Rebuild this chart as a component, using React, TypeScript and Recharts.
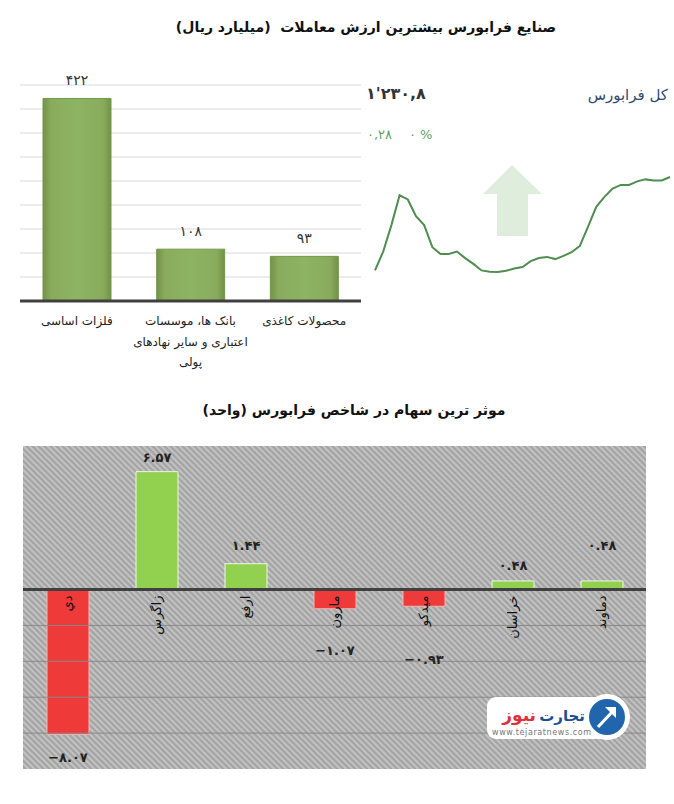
import React from 'react';
import {
  BarChart,
  Bar,
  XAxis,
  YAxis,
  CartesianGrid,
  LabelList,
  LineChart,
  Line,
  ReferenceLine,
  Cell,
} from 'recharts';

// top: sectors with highest trade value (billion rials)
const sectorNames = ['فلزات اساسی', 'بانک ها، موسسات اعتباری و سایر نهادهای پولی', 'محصولات کاغذی'];
const sectorValues = [422, 108, 93];
const sectorTicks = [0, 50, 100, 150, 200, 250, 300, 350, 400, 450];
const sectorTickLines = [['فلزات اساسی'], ['بانک ها، موسسات', 'اعتباری و سایر نهادهای', 'پولی'], ['محصولات کاغذی']];

// intraday index line
const indexValues = [
  1226.1, 1227.05, 1228.38, 1229.88, 1229.67, 1228.83, 1228.38, 1227.27, 1226.93, 1226.93,
  1227.05, 1226.72, 1226.43, 1226.1, 1226.03, 1226.02, 1226.08, 1226.2, 1226.27, 1226.57,
  1226.72, 1226.78, 1226.67, 1226.83, 1227.02, 1227.33, 1228.3, 1229.3, 1229.8, 1230.22,
  1230.4, 1230.4, 1230.58, 1230.68, 1230.63, 1230.63, 1230.8,
];

// bottom: most influential stocks on the index (units)
const stockNames = ['دي', 'زاگرس', 'ارفع', 'مارون', 'میدکو', 'خراسان', 'دماوند'];
const stockImpact = [-8.07, 6.57, 1.44, -1.07, -0.93, 0.48, 0.48];
const belowZeroLines = [-2, -4, -6, -8];

// distance of each value label from its bar end
const labelGap = [23, 14, 18, 42, 53, 15, 35];

const FONT = '"DejaVu Sans", sans-serif';
const toFa = (s: string) => s.replace(/\d/g, (d) => '۰۱۲۳۴۵۶۷۸۹'[+d]).replace(/-/g, '−');

const sectorData = sectorNames.map((name, i) => ({ name, value: sectorValues[i] }));
const lineData = indexValues.map((v, i) => ({ t: i, v }));
const stockData = stockNames.map((name, i) => ({ name, value: stockImpact[i] }));

function SectorTick(props: any) {
  const { x, y, payload } = props;
  const idx = sectorNames.indexOf(payload.value);
  const lines = sectorTickLines[idx] || [payload.value];
  return (
    <text x={x} y={y} textAnchor="middle" fontSize={12} fill="#222" fontFamily={FONT}>
      {lines.map((l, i) => (
        <tspan key={i} x={x} dy={i === 0 ? 16 : 20.5}>
          {l}
        </tspan>
      ))}
    </text>
  );
}

function barBox(props: any) {
  const vb = props.viewBox && props.viewBox.height !== undefined ? props.viewBox : props;
  const y = Number(vb.y);
  const h = Number(vb.height);
  return { x: Number(vb.x), w: Number(vb.width), top: Math.min(y, y + h), bottom: Math.max(y, y + h) };
}

function StockValueLabel(props: any) {
  const { index } = props;
  const value = stockImpact[index];
  const b = barBox(props);
  const cx = b.x + b.w / 2;
  const cy = value >= 0 ? b.top - labelGap[index] : b.bottom + labelGap[index];
  return (
    <text x={cx} y={cy} textAnchor="middle" dominantBaseline="central" fontSize={13} fontWeight="bold" fill="#222" fontFamily={FONT}>
      {toFa(value.toFixed(2))}
    </text>
  );
}

function StockNameLabel(props: any) {
  const { index } = props;
  const value = stockImpact[index];
  const b = barBox(props);
  const cx = b.x + b.w / 2;
  const base = (value >= 0 ? b.bottom : b.top) + 6;
  return (
    <text
      x={cx}
      y={base}
      transform={`rotate(-90 ${cx} ${base})`}
      textAnchor="end"
      dominantBaseline="central"
      fontSize={13}
      fill="#111"
      fontFamily={FONT}
    >
      {stockNames[index]}
    </text>
  );
}

export default function App() {
  return (
    <div
      style={{
        position: 'absolute',
        left: 0,
        top: 0,
        width: 674,
        height: 804,
        overflow: 'hidden',
        background: '#fff',
        fontFamily: FONT,
      }}
    >
      <div
        dir="rtl"
        style={{ position: 'absolute', top: 19, left: 0, width: 732, textAlign: 'center', fontSize: 14, fontWeight: 'bold', color: '#111' }}
      >
        صنایع فرابورس بیشترین ارزش معاملات&nbsp;&nbsp;(میلیارد ریال)
      </div>

      <div style={{ position: 'absolute', left: 0, top: 0 }}>
        <BarChart width={372} height={380} data={sectorData} margin={{ top: 85, right: 11, left: 20, bottom: 0 }}>
          <defs>
            <linearGradient id="sectorFill" x1="0" y1="0" x2="1" y2="0">
              <stop offset="0%" stopColor="#72924a" />
              <stop offset="12%" stopColor="#88ac5c" />
              <stop offset="50%" stopColor="#8db462" />
              <stop offset="88%" stopColor="#88ac5c" />
              <stop offset="100%" stopColor="#72924a" />
            </linearGradient>
          </defs>
          <CartesianGrid vertical={false} stroke="#d9d9d9" />
          <YAxis hide domain={[0, 450]} ticks={sectorTicks} />
          <XAxis
            dataKey="name"
            axisLine={{ stroke: '#404040', strokeWidth: 3 }}
            tickLine={false}
            height={79}
            interval={0}
            tick={<SectorTick />}
          />
          <Bar dataKey="value" barSize={68} fill="url(#sectorFill)" stroke="#759649" isAnimationActive={false}>
            <LabelList
              dataKey="value"
              position="top"
              offset={13}
              fontSize={14}
              fill="#333"
              fontFamily={FONT}
              formatter={(v: any) => toFa(String(v))}
            />
          </Bar>
        </BarChart>
      </div>

      <div style={{ position: 'absolute', left: 360, top: 150 }}>
        <LineChart width={314} height={140} data={lineData} margin={{ top: 27, right: 4, left: 15, bottom: 18 }}>
          <XAxis dataKey="t" hide />
          <YAxis hide domain={[Math.min(...indexValues), Math.max(...indexValues)]} />
          <Line type="linear" dataKey="v" stroke="#4f8d50" strokeWidth={2} dot={false} isAnimationActive={false} />
        </LineChart>
      </div>

      <div
        dir="rtl"
        style={{ position: 'absolute', top: 402, left: 0, width: 708, textAlign: 'center', fontSize: 14, fontWeight: 'bold', color: '#111' }}
      >
        موثر ترین سهام در شاخص فرابورس (واحد)
      </div>

      <div style={{ position: 'absolute', left: 0, top: 430 }}>
        <BarChart width={674} height={360} data={stockData} margin={{ top: 16, right: 28, left: 23, bottom: 21 }}>
          <defs>
            <pattern id="hatch" patternUnits="userSpaceOnUse" width="4.24" height="4.24" patternTransform="rotate(-45)">
              <rect width="4.24" height="4.24" fill="#a4a4a4" />
              <rect width="1.9" height="4.24" fill="#c4c4c4" />
            </pattern>
          </defs>
          <CartesianGrid horizontal={false} vertical={false} fill="url(#hatch)" />
          <XAxis dataKey="name" hide />
          <YAxis hide domain={[-10, 8]} />
          {belowZeroLines.map((v) => (
            <ReferenceLine key={v} y={v} stroke="#8a8a8a" strokeWidth={1} />
          ))}
          <Bar dataKey="value" barSize={42} isAnimationActive={false}>
            {stockData.map((d, i) => (
              <Cell key={i} fill={d.value >= 0 ? '#92d050' : '#ef3a3a'} stroke={d.value >= 0 ? '#eef7e6' : '#f6b4b4'} strokeWidth={1} />
            ))}
            <LabelList dataKey="value" content={<StockValueLabel />} />
            <LabelList dataKey="name" content={<StockNameLabel />} />
          </Bar>
          <ReferenceLine y={0} stroke="#404040" strokeWidth={3} />
        </BarChart>
      </div>

      <svg width={674} height={804} style={{ position: 'absolute', left: 0, top: 0, pointerEvents: 'none' }}>
        <text x={366} y={99} fontSize={16} fontWeight="bold" fill="#333" fontFamily={FONT}>
          {"۱'۲۳۰,۸"}
        </text>
        <text x={668} y={100} textAnchor="end" fontSize={15} fill="#2f4b72" fontFamily={FONT}>
          کل فرابورس
        </text>
        <text x={367} y={139} fontSize={13} fill="#5f9f5f" fontFamily={FONT}>
          ۰,۲۸
        </text>
        <text x={409} y={139} fontSize={13} fill="#5f9f5f" fontFamily={FONT}>
          ۰ %
        </text>
        <polygon
          points="512,165 542,194 528,194 528,236 497,236 497,194 483,194"
          fill="#deeddc"
        />

        <rect x={487} y={697} width={128} height={42} rx={9} fill="#fff" />
        <circle cx={607} cy={717} r={23} fill="#fff" />
        <circle cx={607} cy={717} r={18} fill="#2166ad" />
        <path d="M598 727 L613 711" stroke="#fff" strokeWidth={3} />
        <polygon points="616,707 616,718 605,707" fill="#fff" />
        <text x={585} y={721} textAnchor="end" fontSize={15} fontWeight="bold" fill="#1c4f91" fontFamily={FONT}>
          تجارت
        </text>
        <text x={536} y={721} textAnchor="end" fontSize={17} fontWeight="bold" fill="#e0303a" fontFamily={FONT}>
          نیوز
        </text>
        <text x={492} y={735} fontSize={8} fill="#777" fontFamily={FONT} letterSpacing={0.6}>
          www.tejaratnews.com
        </text>
      </svg>
    </div>
  );
}
